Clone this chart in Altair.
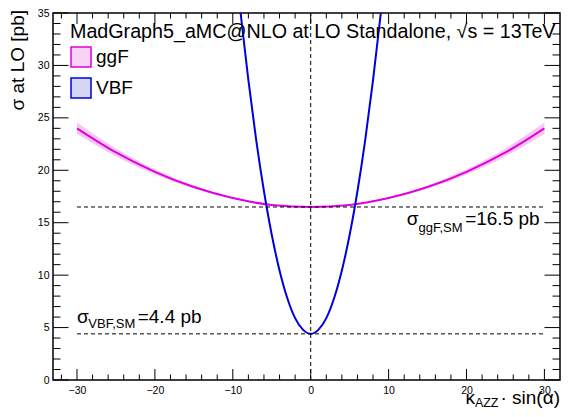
import altair as alt
import pandas as pd

# ---------------- data ----------------
ggf_x = [-30, -25, -20, -15, -10, -5, 0, 5, 10, 15, 20, 25, 30]
ggf_y = [24.0, 21.7, 19.85, 18.4, 17.35, 16.7, 16.5, 16.7, 17.35, 18.4, 19.85, 21.7, 24.0]
ggf_err = [0.55, 0.38, 0.25, 0.14, 0.06, 0.02, 0.01, 0.02, 0.06, 0.14, 0.25, 0.38, 0.55]

vbf_x = [-9.5, -9, -8, -7, -6, -5, -4, -3, -2, -1, 0, 1, 2, 3, 4, 5, 6, 7, 8, 9, 9.5]
vbf_y = [38.5, 35.0, 28.6, 22.9, 18.0, 13.85, 10.45, 7.8, 5.9, 4.8, 4.4,
         4.8, 5.9, 7.8, 10.45, 13.85, 18.0, 22.9, 28.6, 35.0, 38.5]

ggf_sm = 16.5
vbf_sm = 4.4
ref_x_range = [-30, 30]

legend_labels = ["ggF", "VBF"]
legend_fill = ["#f8d2f4", "#d4d6f2"]
legend_stroke = ["#e000e0", "#0000dd"]

x_major = [-30, -20, -10, 0, 10, 20, 30]
x_minor = [-32, -28, -26, -24, -22, -18, -16, -14, -12, -8, -6, -4, -2,
           2, 4, 6, 8, 12, 14, 16, 18, 22, 24, 26, 28]
y_major = [0, 5, 10, 15, 20, 25, 30, 35]
y_minor = [v for v in range(0, 36) if v % 5 != 0]

title_text = "MadGraph5_aMC@NLO at LO Standalone, \u221as = 13TeV"

# ---------------- style ----------------
FONT = "Liberation Sans"
W, H = 507, 367
MAG = "#e000e0"
BLUE = "#0000dd"
BAND = "#f6c8f2"

xs = alt.Scale(domain=[-33.08, 32.0], nice=False, zero=False)
ys = alt.Scale(domain=[0, 35], nice=False, zero=False)

x_axis = alt.Axis(values=x_major, ticks=False, domain=False, grid=False,
                  labelFontSize=10.5, labelPadding=5, labelFont=FONT,
                  labelColor="black", labelFlush=False, title=None, format="d")
y_axis = alt.Axis(values=y_major, ticks=False, domain=False, grid=False,
                  labelFontSize=10.5, labelPadding=4, labelFont=FONT,
                  labelColor="black", labelFlush=False, title=None, format="d")

ggf_df = pd.DataFrame({"x": ggf_x, "y": ggf_y,
                       "lo": [a - b for a, b in zip(ggf_y, ggf_err)],
                       "hi": [a + b for a, b in zip(ggf_y, ggf_err)]})
vbf_df = pd.DataFrame({"x": vbf_x, "y": vbf_y})

band = alt.Chart(ggf_df).mark_area(color=BAND, interpolate="monotone").encode(
    x=alt.X("x:Q", scale=xs, axis=x_axis),
    y=alt.Y("lo:Q", scale=ys, axis=y_axis),
    y2="hi:Q")

ggf_line = alt.Chart(ggf_df).mark_line(color=MAG, strokeWidth=2, interpolate="monotone").encode(
    x="x:Q", y="y:Q")

vbf_line = alt.Chart(vbf_df).mark_line(color=BLUE, strokeWidth=2, interpolate="monotone",
                                       clip=True).encode(x="x:Q", y="y:Q")

ref_df = pd.DataFrame({
    "x": [ref_x_range[0], ref_x_range[0], 0],
    "x2": [ref_x_range[1], ref_x_range[1], 0],
    "y": [ggf_sm, vbf_sm, 0],
    "y2": [ggf_sm, vbf_sm, 35],
})
refs = alt.Chart(ref_df).mark_rule(color="black", strokeWidth=1, strokeDash=[4, 3]).encode(
    x="x:Q", x2="x2:Q", y="y:Q", y2="y2:Q")

# ---------------- ticks (ROOT style, inside the frame) ----------------
def xticks(vals, length):
    d = pd.DataFrame({"v": vals})
    bot = alt.Chart(d).mark_rule(color="black", strokeWidth=1).encode(
        x="v:Q", y=alt.value(H), y2=alt.value(H - length))
    top = alt.Chart(d).mark_rule(color="black", strokeWidth=1).encode(
        x="v:Q", y=alt.value(0), y2=alt.value(length))
    return [bot, top]

def yticks(vals, length):
    d = pd.DataFrame({"v": vals})
    left = alt.Chart(d).mark_rule(color="black", strokeWidth=1).encode(
        y="v:Q", x=alt.value(0), x2=alt.value(length))
    right = alt.Chart(d).mark_rule(color="black", strokeWidth=1).encode(
        y="v:Q", x=alt.value(W), x2=alt.value(W - length))
    return [left, right]

ticks = xticks(x_major, 11) + xticks(x_minor, 5.5) + yticks(y_major, 15.5) + yticks(y_minor, 7.5)

# ---------------- texts ----------------
def ptext(txt, x, y, size=19, align="left", angle=0):
    return alt.Chart(pd.DataFrame({"t": [txt]})).mark_text(
        font=FONT, fontSize=size, color="black", align=align, baseline="alphabetic",
        angle=angle).encode(text="t:N", x=alt.value(x), y=alt.value(y))

def dtext(txt, x, y, dx=0, dy=0, size=19):
    return alt.Chart(pd.DataFrame({"t": [txt], "x": [x], "y": [y]})).mark_text(
        font=FONT, fontSize=size, color="black", align="left", baseline="alphabetic",
        dx=dx, dy=dy).encode(text="t:N", x="x:Q", y="y:Q")

XT_BASE = 390.5   # x-title baseline (plot px)
texts = [
    ptext(title_text, 17, 24.7, size=19.7),
    # y title
    ptext("\u03c3 at LO [pb]", -29, -3, align="right", angle=270),
    # x title
    ptext("\u00b7 sin(\u03b1)", W, XT_BASE, size=19, align="right"),
    ptext("AZZ", W - 61.5, XT_BASE + 3.5, size=12.5, align="right"),
    ptext("\u03ba", W - 85, XT_BASE, size=19, align="right"),
    # annotations
    dtext("\u03c3", -30, 5.45),
    dtext("VBF,SM", -30, 5.45, dx=11.3, dy=5.6, size=13),
    dtext("=" + str(vbf_sm) + " pb", -30, 5.45, dx=60.7),
    dtext("\u03c3", 12.34, 14.74),
    dtext("ggF,SM", 12.34, 14.74, dx=11.6, dy=6.7, size=13),
    dtext("=" + str(ggf_sm) + " pb", 12.34, 14.74, dx=58.3),
]

# ---------------- legend ----------------
leg_props = dict(title=None, orient="none", legendX=17, legendY=33, symbolType="square",
                 symbolSize=400, symbolStrokeWidth=1.5, labelFont=FONT, labelFontSize=19,
                 labelColor="black", rowPadding=5, labelOffset=4, padding=0,
                 symbolOpacity=1)
leg_df = pd.DataFrame({"proc": legend_labels})
legend_layer = alt.Chart(leg_df).mark_square(clip=True, opacity=1).encode(
    x=alt.value(-200), y=alt.value(-200),
    fill=alt.Fill("proc:N", scale=alt.Scale(domain=legend_labels, range=legend_fill),
                  legend=alt.Legend(**leg_props)),
    stroke=alt.Stroke("proc:N", scale=alt.Scale(domain=legend_labels, range=legend_stroke),
                      legend=alt.Legend(**leg_props)),
)

chart = alt.layer(band, ggf_line, vbf_line, refs, *ticks, *texts, legend_layer).properties(
    width=W, height=H,
    autosize=alt.AutoSizeParams(type="none"),
    padding={"left": 45, "top": 5, "right": 1, "bottom": 29},
    background="white",
).configure_view(stroke="black", strokeWidth=1.5)

chart.save("out.html", embed_options={"renderer": "svg", "actions": False})
